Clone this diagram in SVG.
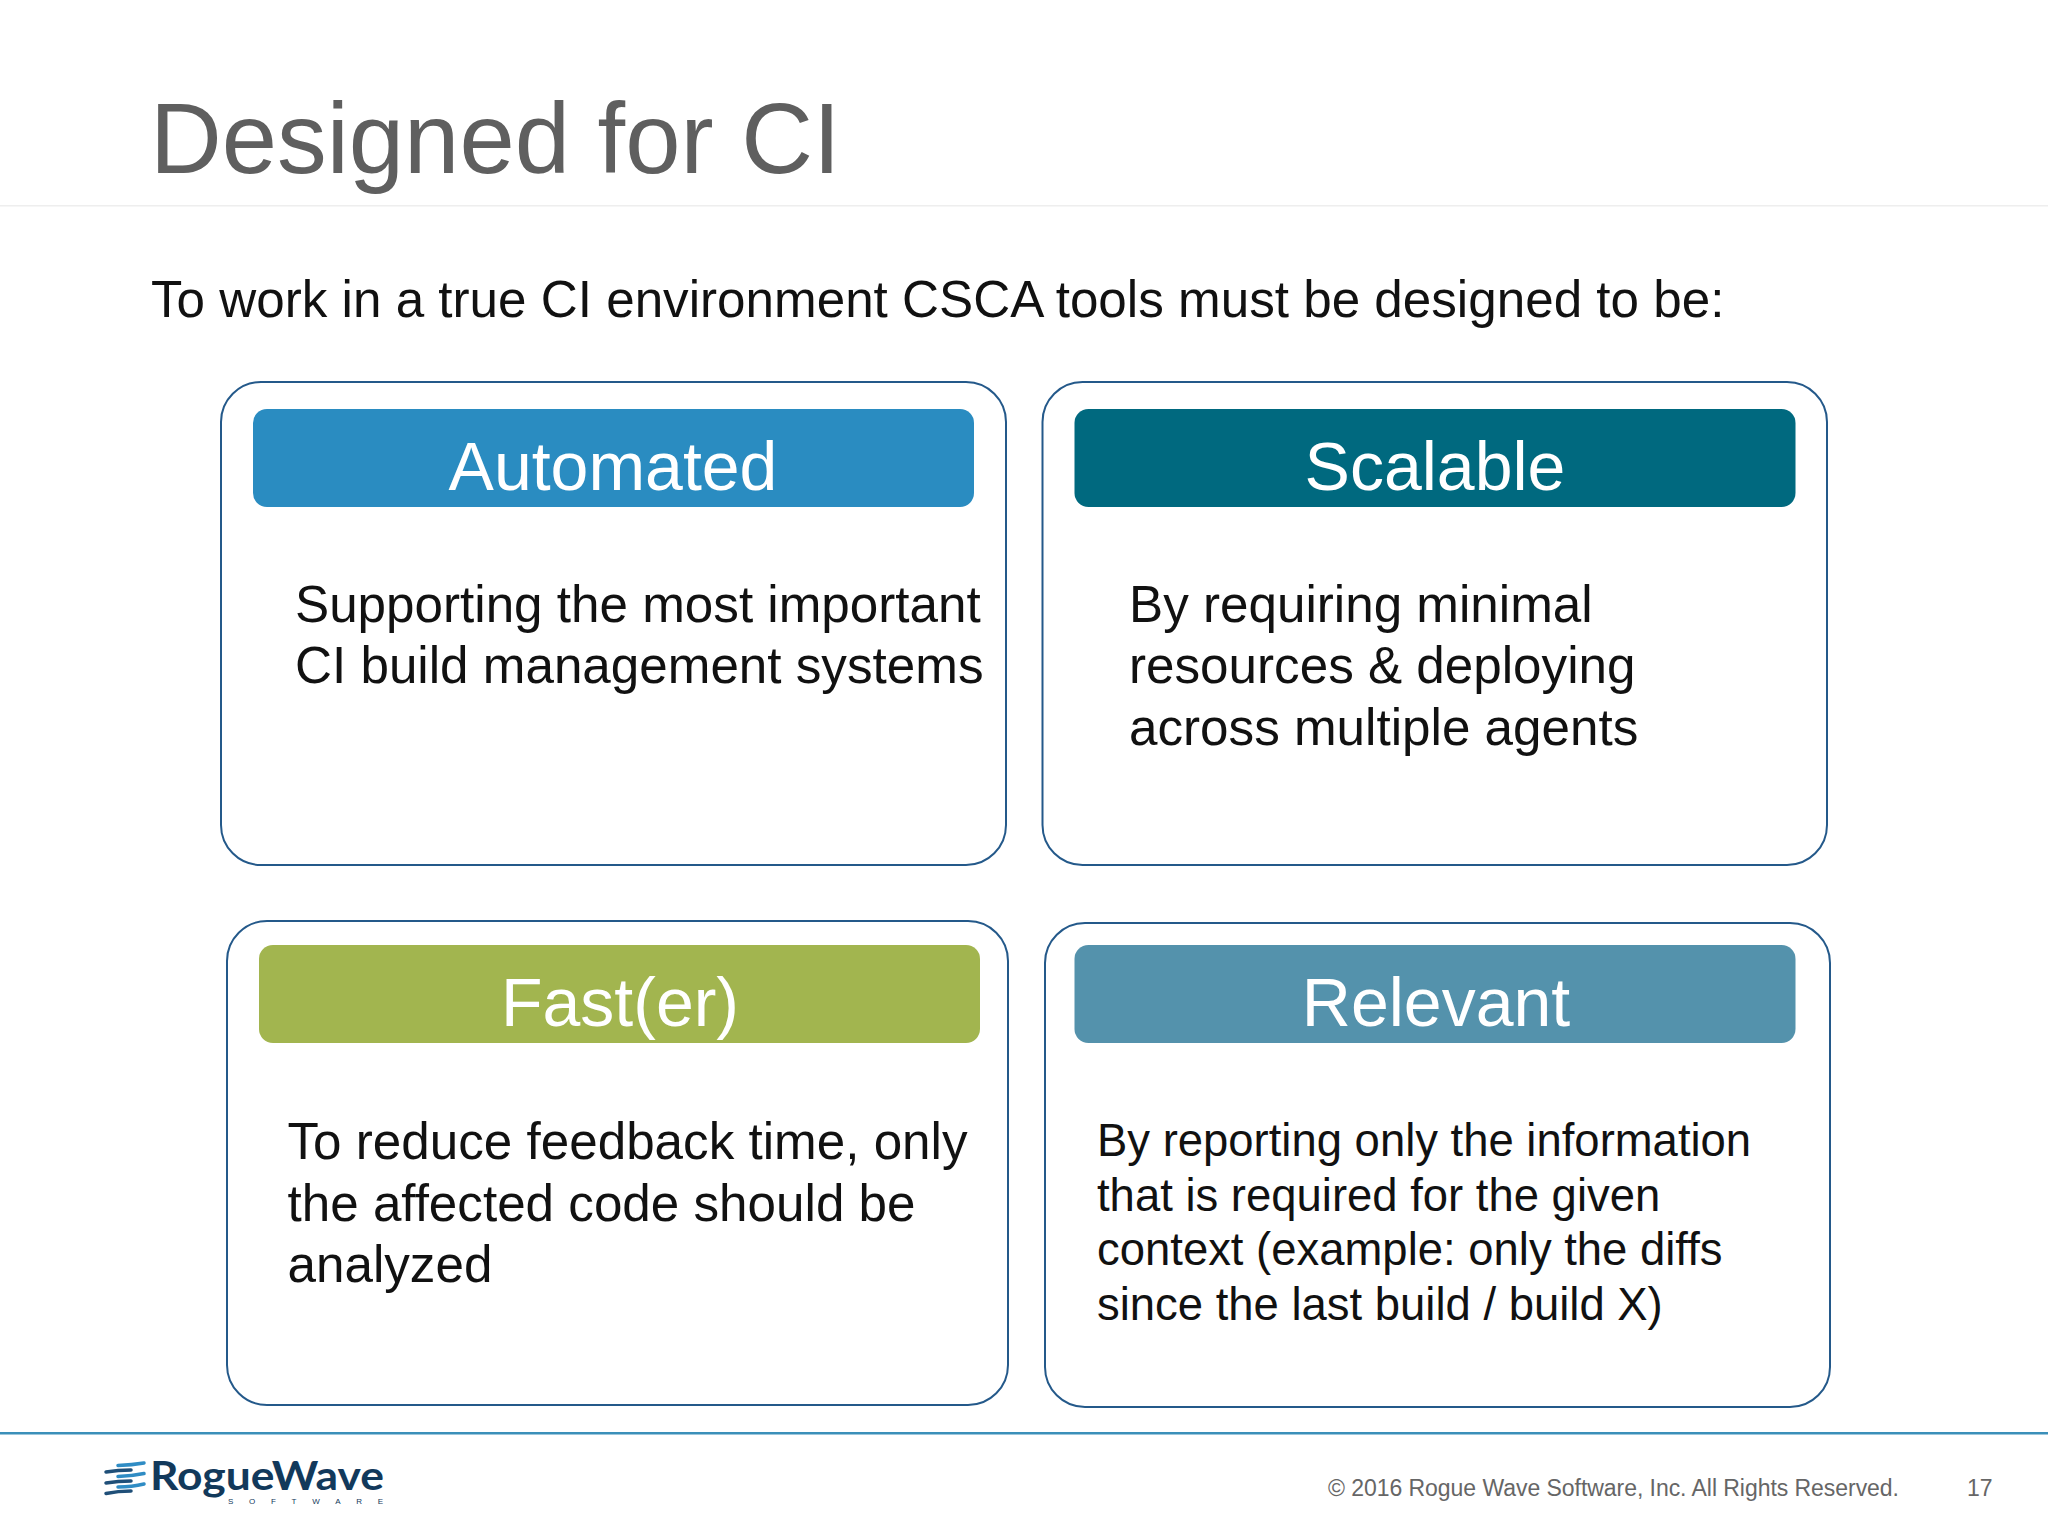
<svg xmlns="http://www.w3.org/2000/svg" width="2048" height="1536" viewBox="0 0 2048 1536">
<style>
text{font-family:"Liberation Sans",Arial,sans-serif}
.card{fill:#fff;stroke:#24598a;stroke-width:2}
.h{fill:#fff;font-size:68px;text-anchor:middle}
.b{fill:#111;font-size:51.2px}
.s{fill:#111;font-size:45.45px}
.lt{stroke:#2f8cc4}
.dk{stroke:#1f4f78}
</style>
<rect width="2048" height="1536" fill="#fff"/>
<text x="150" y="172.5" font-size="99.4" fill="#5f5f5f">Designed for CI</text>
<rect x="0" y="205" width="2048" height="1.5" fill="#eeeeee"/>
<text x="151" y="317" class="b">To work in a true CI environment CSCA tools must be designed to be:</text>
<g id="automated"><rect class="card" x="221" y="382" width="785" height="483" rx="40"/><rect x="253" y="409" width="721" height="98" rx="14" fill="#2a8cc1"/><text class="h" x="613" y="490">Automated</text><text class="b" x="295" y="621.5">Supporting the most important</text><text class="b" x="295" y="683">CI build management systems</text></g>
<g id="scalable"><rect class="card" x="1042.5" y="382" width="784.5" height="483" rx="40"/><rect x="1074.5" y="409" width="721" height="98" rx="14" fill="#00697f"/><text class="h" x="1435" y="490">Scalable</text><text class="b" x="1129" y="621.5">By requiring minimal</text><text class="b" x="1129" y="683">resources &amp; deploying</text><text class="b" x="1129" y="745">across multiple agents</text></g>
<g id="faster"><rect class="card" x="227" y="921" width="781" height="484" rx="40"/><rect x="259" y="945" width="721" height="98" rx="14" fill="#a2b54f"/><text class="h" x="620" y="1026">Fast(er)</text><text class="b" x="287.5" y="1159">To reduce feedback time, only</text><text class="b" x="287.5" y="1221">the affected code should be</text><text class="b" x="287.5" y="1282">analyzed</text></g>
<g id="relevant"><rect class="card" x="1045" y="923" width="785" height="484" rx="40"/><rect x="1074.5" y="945" width="721" height="98" rx="14" fill="#5492ac"/><text class="h" x="1436" y="1026">Relevant</text><text class="s" x="1097" y="1156">By reporting only the information</text><text class="s" x="1097" y="1211">that is required for the given</text><text class="s" x="1097" y="1265">context (example: only the diffs</text><text class="s" x="1097" y="1320">since the last build / build X)</text></g>
<rect x="0" y="1432" width="2048" height="2.5" fill="#3b8fb9"/>
<g id="logo"><g stroke-width="3.5" fill="none" stroke-linecap="round"><path class="lt" d="M118 1465.5Q132 1465 144 1463"/><path class="dk" d="M106 1472Q118 1470 131 1470"/><path class="lt" d="M118 1476.5Q132 1476 144 1473.5"/><path class="dk" d="M106 1483Q118 1481 131 1481"/><path class="lt" d="M118 1487Q132 1487 144 1484"/><path class="dk" d="M106 1493.5Q118 1491 131 1491"/></g><text x="150" y="1490" font-size="40" font-weight="700" fill="#12395b" style="font-family:Lato,'Liberation Sans',sans-serif" textLength="234" lengthAdjust="spacingAndGlyphs">RogueWave</text><text x="228" y="1504" font-size="8" fill="#12395b" textLength="155">SOFTWARE</text></g>
<text x="1328" y="1496" font-size="23" fill="#666" textLength="571">© 2016 Rogue Wave Software, Inc. All Rights Reserved.</text>
<text x="1967" y="1496" font-size="23" fill="#666">17</text>
</svg>
